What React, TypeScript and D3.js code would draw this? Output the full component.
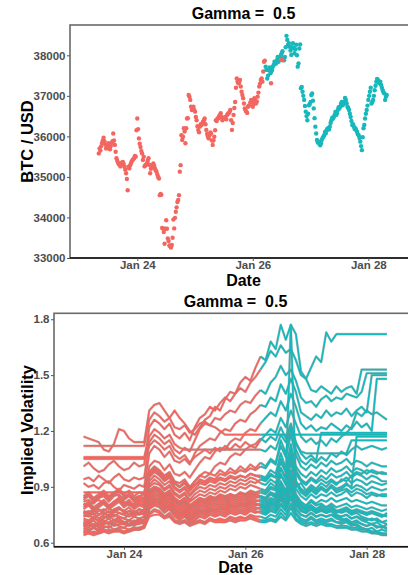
import { useRef, useEffect } from "react";
import * as d3 from "d3";

// BTC price, one reading every 40 minutes from Jan 23 08:00
const priceStart = new Date(2021, 0, 23, 8, 0);
const priceStepMin = 40;
const btcPrice = [
  35580, 35650, 35840, 35970, 35800, 35760, 35830, 35680, 35840, 36070,
  35790, 35460, 35350, 35290, 35330, 35370, 35250, 35090, 34670, 35210,
  35330, 35410, 35460, 35500, 36440, 35950, 35740, 35580, 35500, 35290,
  35330, 35460, 35090, 35250, 35330, 35210, 35130, 35000, 34550, 34560,
  33730, 33350, 33930, 33480, 33310, 33260, 33500, 33730, 34140, 34380,
  34550, 35290, 35910, 36200, 35830, 36440, 37020, 36900, 36650, 36730,
  36610, 36400, 36160, 36240, 36280, 36360, 36440, 36160, 35990, 36030,
  36070, 35790, 35990, 36400, 36440, 36500, 36570, 36400, 36440, 36480,
  36530, 36570, 36650, 36160, 36530, 36850, 37430, 37310, 37390, 37100,
  36940, 36690, 36610, 36730, 36770, 36900, 36730, 36940, 36810, 36980,
  37230, 37390, 37350, 37840, 37720, 37430, 37640, 37560, 37640, 37760,
  37800, 37880, 37840, 37960, 38050, 37920, 37960, 38480, 38260, 38210,
  38010, 38300, 38050, 38260, 37720, 38170, 37190, 37100, 36900, 36610,
  36400, 36770, 36850, 37060, 36690, 36240, 35910, 35870, 35780, 35910,
  35990, 36110, 36150, 36200, 36240, 36400, 36440, 36530, 36530, 36650,
  36690, 36810, 36770, 36850, 36900, 36730, 36650, 36480, 36280, 36240,
  36200, 36110, 36030, 35870, 35660, 36200, 36440, 36650, 36900, 37100,
  36810, 36900, 37140, 37350, 37390, 37310, 37270, 37140, 37060, 36980,
];
// readings taken 20 minutes after each of the above
const btcPriceMid = [
  35700, 35760, 35900, 35880, 35700, 35740, 35700, 35760, 35880, 35900,
  35620, 35400, 35320, 35260, 35360, 35320, 35180, 34950, 35250, 35280,
  35380, 35440, 35520, 36150, 36180, 35820, 35640, 35420, 35260, 35300,
  35400, 35300, 35200, 35280, 35280, 35160, 35060, 34960, 34580, 33740,
  33640, 33720, 33720, 33420, 33290, 33320, 33950, 33990, 34250, 34430,
  35130, 36030, 35990, 36120, 36200, 36450, 36980, 36730, 36690, 36650,
  36480, 36250, 36100, 36300, 36320, 36400, 36300, 36060, 35950, 36100,
  35900, 35900, 36150, 36380, 36450, 36520, 36480, 36420, 36470, 36420,
  36560, 36600, 36400, 36330, 36700, 37200, 37350, 37330, 37230, 37020,
  36810, 36640, 36580, 36760, 36840, 36880, 36800, 36880, 36860, 37080,
  37300, 37430, 37600, 37870, 37640, 37500, 37700, 37600, 37720, 37840,
  37800, 37960, 37900, 38000, 38100, 37880, 38200, 38380, 38300, 38120,
  38200, 38180, 38150, 38000, 37800, 38270, 37220, 37000, 36750, 36500,
  36560, 36800, 37020, 36880, 36450, 36070, 35850, 35820, 35830, 35960,
  36030, 36080, 36190, 36170, 36330, 36460, 36480, 36600, 36570, 36720,
  36740, 36850, 36790, 36950, 36820, 36700, 36560, 36380, 36300, 36180,
  36150, 36050, 35960, 35760, 35980, 36280, 36560, 36760, 37000, 37200,
  36850, 37000, 37250, 37420, 37330, 37350, 37200, 37080, 36900, 37020,
];
const colourSwitch = new Date(2021, 0, 26, 5, 20);
const lateRedTimes = [
  new Date(2021, 0, 26, 7, 35),
  new Date(2021, 0, 26, 11, 40),
  new Date(2021, 0, 26, 12, 20),
];
const lateRedPrices = [37310, 37890, 37880];

// implied volatility (in %), one reading every 2 hours from Jan 23 08:00
const ivStart = new Date(2021, 0, 23, 8, 0);
const ivStepHours = 2;
const ivSwitchIndex = 35;

const iv01 = [
  117, 116, 115, 114, 110, 109, 113, 121, 120, 116, 114, 114, 114, 131, 134, 135, 131, 127, 131, 127,
  124, 120, 118, 122, 126, 128, 133, 131, 137, 141, 140, 146, 149, 147, 154, 160, 158, 168, 164, 177,
  169, 177, 172, 152, 148, 154, 160, 157, 173, 168, 172, 172, 172, 172, 172, 172, 172, 172, 172, 172, 172,
];
const iv02 = [
  101, 103, 100, 98, 99, 102, 104, 101, 99, 100, 103, 101, 102, 122, 126, 124, 121, 124, 118, 116,
  119, 115, 122, 127, 129, 133, 131, 135, 138, 136, 140, 143, 141, 146, 149, 153, 157, 163, 160, 166,
  162, 164, 158, 150, 148, 142, 141, 144, 142, 140, 144, 141, 143, 144, 140, 153, 153, 153, 153, 153, 153,
];
const iv03 = [
  94, 95, 93, 96, 94, 92, 95, 97, 94, 93, 95, 94, 95, 114, 118, 116, 113, 115, 110, 108,
  111, 109, 115, 121, 124, 123, 127, 126, 129, 131, 130, 134, 136, 135, 139, 142, 140, 146, 149, 155,
  150, 153, 147, 138, 135, 136, 133, 137, 139, 136, 138, 137, 140, 139, 138, 141, 151, 151, 151, 151, 151,
];
const iv04 = [
  92, 90, 91, 89, 92, 93, 90, 88, 91, 90, 89, 91, 90, 108, 112, 110, 106, 109, 104, 103,
  105, 102, 108, 112, 114, 116, 115, 119, 121, 120, 124, 126, 125, 129, 131, 134, 133, 138, 136, 145,
  140, 148, 141, 130, 128, 126, 129, 127, 131, 128, 130, 129, 132, 128, 131, 133, 130, 150, 150, 150, 150,
];
const iv05 = [
  84, 86, 83, 85, 87, 84, 86, 88, 85, 86, 84, 85, 86, 101, 104, 103, 99, 102, 97, 96,
  98, 95, 99, 103, 106, 105, 109, 111, 110, 114, 116, 115, 119, 121, 120, 124, 127, 130, 128, 136,
  131, 140, 133, 124, 121, 123, 120, 122, 121, 124, 122, 120, 123, 121, 125, 122, 124, 120, 148, 148, 148,
];
const iv06 = [
  81, 80, 82, 83, 81, 79, 82, 84, 82, 80, 81, 83, 82, 96, 99, 97, 94, 96, 92, 90,
  93, 89, 93, 96, 98, 97, 101, 103, 102, 106, 108, 107, 110, 112, 111, 115, 118, 121, 119, 127,
  122, 131, 124, 117, 114, 116, 113, 115, 112, 116, 114, 117, 119, 122, 130, 128, 131, 129, 130, 128, 126,
];
const iv07 = [
  112, 112, 112, 112, 112, 112, 112, 112, 112, 112, 112, 112, 112, 126, 130, 128, 125, 127, 122, 121,
  123, 119, 121, 124, 125, 123, 122, 120, 118, 118, 118, 118, 118, 118, 118, 118, 118, 118, 118, 118,
  118, 118, 118, 118, 118, 118, 118, 118, 118, 118, 118, 118, 118, 118, 118, 118, 118, 118, 118, 118, 118,
];
const iv08 = [
  106, 106, 106, 106, 106, 106, 106, 106, 106, 106, 106, 106, 106, 117, 121, 119, 116, 118, 113, 111,
  110, 110, 110, 110, 110, 110, 110, 110, 110, 110, 110, 110, 110, 110, 110, 110, 109, 112, 110, 118,
  114, 121, 113, 109, 108, 108, 108, 108, 108, 108, 108, 108, 108, 115, 115, 115, 115, 115, 115, 115, 115,
];
const iv09 = [
  105, 105, 105, 105, 105, 105, 105, 105, 105, 105, 105, 105, 105, 112, 115, 113, 110, 112, 107, 105,
  107, 103, 106, 108, 110, 108, 111, 109, 112, 110, 113, 111, 114, 112, 113, 116, 114, 117, 115, 122,
  116, 124, 114, 108, 105, 107, 104, 119, 119, 119, 119, 119, 119, 119, 119, 119, 119, 119, 119, 119, 119,
];
const iv10 = [
  87, 87, 87, 87, 87, 87, 87, 87, 87, 87, 87, 87, 87, 98, 101, 99, 96, 98, 93, 92,
  94, 90, 93, 96, 95, 97, 96, 99, 97, 100, 98, 101, 99, 102, 100, 103, 101, 105, 103, 112,
  106, 118, 107, 101, 99, 102, 100, 103, 101, 104, 102, 103, 105, 102, 104, 103, 101, 103, 102, 101, 101,
];
const iv11 = [
  79, 81, 78, 80, 82, 79, 81, 83, 80, 82, 79, 81, 80, 91, 94, 92, 89, 91, 87, 85,
  87, 83, 86, 88, 87, 89, 88, 90, 89, 91, 90, 92, 91, 93, 92, 94, 93, 96, 95, 103,
  98, 110, 99, 94, 92, 95, 93, 96, 94, 97, 95, 96, 98, 95, 97, 96, 94, 96, 95, 93, 93,
];
const iv12 = [
  77, 76, 78, 75, 77, 79, 76, 78, 77, 75, 77, 76, 78, 88, 90, 89, 86, 88, 84, 82,
  84, 80, 82, 84, 83, 85, 84, 86, 85, 86, 85, 87, 86, 88, 87, 88, 87, 90, 89, 96,
  92, 103, 93, 88, 86, 89, 87, 90, 88, 91, 89, 90, 92, 89, 91, 90, 88, 90, 89, 88, 89,
];
const iv13 = [
  75, 74, 76, 73, 75, 77, 74, 76, 75, 74, 76, 75, 76, 86, 88, 87, 84, 86, 82, 80,
  82, 78, 80, 82, 81, 83, 82, 83, 82, 84, 83, 84, 83, 85, 84, 85, 84, 87, 86, 93,
  88, 99, 89, 85, 83, 86, 84, 86, 85, 87, 85, 86, 88, 85, 87, 86, 84, 86, 85, 86, 86,
];
const iv14 = [
  73, 72, 74, 71, 73, 75, 72, 74, 73, 72, 74, 73, 74, 84, 86, 85, 82, 84, 80, 78,
  80, 76, 78, 80, 79, 81, 80, 81, 80, 82, 81, 82, 81, 83, 82, 83, 82, 84, 83, 89,
  85, 95, 86, 82, 80, 83, 81, 83, 82, 84, 82, 83, 84, 82, 83, 82, 81, 82, 81, 80, 80,
];
const iv15 = [
  71, 70, 72, 69, 71, 73, 70, 72, 71, 70, 72, 71, 72, 82, 84, 83, 80, 82, 78, 76,
  78, 74, 76, 78, 77, 79, 78, 79, 78, 80, 79, 80, 79, 81, 80, 81, 80, 82, 81, 86,
  82, 91, 83, 79, 78, 80, 78, 80, 79, 81, 79, 80, 81, 79, 80, 79, 78, 79, 78, 77, 78,
];
const iv16 = [
  70, 69, 70, 68, 70, 71, 69, 70, 70, 69, 70, 70, 71, 80, 82, 81, 78, 80, 76, 74,
  76, 72, 74, 76, 75, 77, 76, 77, 76, 78, 77, 78, 77, 79, 78, 79, 78, 80, 79, 84,
  80, 88, 81, 77, 76, 78, 76, 78, 77, 78, 77, 77, 78, 76, 77, 76, 75, 76, 75, 74, 76,
];
const iv17 = [
  68, 67, 68, 66, 68, 69, 67, 68, 68, 67, 68, 68, 69, 78, 80, 79, 76, 78, 74, 72,
  74, 71, 72, 74, 73, 75, 74, 75, 74, 76, 75, 76, 75, 77, 76, 77, 76, 78, 77, 81,
  78, 85, 78, 75, 74, 76, 74, 75, 74, 75, 74, 74, 75, 73, 74, 73, 72, 73, 72, 71, 72,
];
const iv18 = [
  66, 65, 66, 65, 66, 67, 66, 67, 66, 66, 67, 67, 68, 76, 78, 77, 74, 76, 72, 71,
  72, 70, 71, 72, 71, 73, 72, 73, 72, 74, 73, 74, 73, 75, 74, 74, 73, 75, 74, 78,
  75, 81, 75, 72, 71, 73, 71, 72, 71, 72, 71, 71, 72, 70, 71, 70, 69, 70, 69, 68, 70,
];
const iv19 = [
  64, 65, 64, 65, 66, 65, 66, 66, 65, 66, 67, 67, 68, 74, 75, 75, 73, 74, 71, 70,
  71, 69, 70, 71, 70, 72, 71, 71, 71, 72, 71, 72, 72, 73, 72, 71, 71, 72, 71, 74,
  72, 76, 72, 70, 69, 70, 69, 70, 69, 69, 68, 68, 68, 67, 67, 66, 66, 65, 65, 64, 64,
];
const iv20 = [
  67, 66, 68, 67, 69, 68, 70, 69, 68, 70, 69, 71, 70, 79, 81, 80, 77, 79, 75, 73,
  75, 72, 73, 75, 74, 76, 75, 76, 75, 77, 76, 77, 76, 78, 77, 76, 75, 77, 76, 80,
  77, 84, 76, 73, 72, 74, 72, 73, 72, 73, 71, 70, 71, 69, 70, 68, 67, 68, 66, 67, 66,
];
const iv21 = [
  69, 70, 68, 70, 71, 70, 72, 71, 70, 72, 71, 73, 72, 83, 85, 84, 81, 83, 79, 77,
  79, 75, 77, 79, 78, 80, 79, 80, 79, 81, 80, 81, 80, 82, 81, 80, 79, 81, 80, 85,
  81, 90, 80, 77, 76, 78, 76, 77, 76, 77, 75, 74, 75, 73, 74, 72, 71, 70, 71, 69, 68,
];
const iv22 = [
  72, 71, 73, 72, 74, 73, 75, 74, 73, 75, 74, 76, 75, 87, 89, 88, 85, 87, 83, 81,
  83, 79, 81, 83, 82, 84, 83, 84, 83, 85, 84, 85, 84, 86, 85, 84, 83, 86, 84, 90,
  85, 96, 84, 80, 78, 80, 77, 78, 76, 77, 74, 73, 72, 70, 69, 68, 67, 66, 65, 65, 64,
];
const iv23 = [
  83, 85, 82, 84, 86, 83, 87, 85, 84, 86, 83, 85, 84, 96, 99, 98, 94, 97, 92, 90,
  92, 88, 91, 94, 93, 95, 94, 97, 96, 98, 97, 99, 98, 100, 99, 101, 100, 104, 102, 115,
  108, 122, 110, 104, 102, 105, 103, 106, 104, 108, 106, 109, 107, 110, 112, 110, 111, 112, 111, 110, 111,
];
const iv24 = [
  78, 80, 77, 79, 81, 78, 80, 82, 79, 81, 78, 80, 79, 90, 92, 91, 88, 90, 86, 84,
  86, 82, 84, 86, 85, 87, 86, 88, 87, 89, 88, 90, 89, 91, 90, 89, 88, 92, 90, 100,
  95, 177, 90, 92, 88, 91, 89, 92, 90, 93, 91, 94, 93, 96, 98, 97, 99, 98, 97, 98, 97,
];
const iv25 = [
  76, 75, 77, 78, 76, 74, 77, 79, 76, 77, 75, 76, 77, 87, 89, 88, 85, 87, 83, 81,
  83, 79, 81, 83, 82, 84, 83, 85, 84, 86, 85, 87, 86, 87, 86, 87, 86, 89, 88, 97,
  91, 104, 92, 87, 85, 88, 86, 89, 87, 90, 88, 89, 91, 90, 117, 117, 117, 117, 117, 117, 117,
];
const iv26 = [
  65, 66, 65, 66, 67, 66, 67, 67, 66, 67, 68, 68, 69, 75, 77, 76, 74, 75, 72, 71,
  72, 70, 71, 72, 71, 73, 72, 72, 72, 73, 72, 73, 73, 74, 73, 72, 72, 73, 72, 76,
  73, 79, 73, 71, 70, 71, 70, 71, 70, 70, 69, 69, 69, 68, 68, 67, 67, 66, 66, 65, 65,
];
const iv27 = [
  69, 68, 70, 69, 70, 71, 70, 72, 71, 70, 71, 72, 71, 80, 83, 82, 79, 80, 77, 75,
  77, 73, 75, 77, 76, 78, 77, 78, 77, 79, 78, 79, 78, 80, 79, 78, 77, 79, 78, 83,
  79, 88, 78, 75, 74, 76, 74, 75, 74, 75, 73, 72, 73, 71, 72, 70, 69, 70, 68, 69, 67,
];
const iv28 = [
  74, 75, 73, 75, 76, 74, 77, 76, 75, 77, 76, 78, 77, 88, 90, 89, 86, 88, 84, 82,
  84, 80, 82, 84, 83, 85, 84, 85, 84, 86, 85, 86, 85, 87, 86, 85, 84, 87, 85, 92,
  86, 98, 85, 81, 79, 82, 80, 81, 79, 80, 77, 76, 77, 75, 76, 74, 73, 72, 73, 71, 70,
];
const iv29 = [
  80, 82, 79, 81, 83, 80, 82, 84, 81, 83, 80, 82, 81, 93, 96, 94, 91, 93, 89, 87,
  89, 85, 88, 90, 89, 91, 90, 92, 91, 93, 92, 94, 93, 95, 94, 92, 91, 94, 92, 100,
  94, 107, 93, 89, 87, 90, 88, 90, 88, 90, 87, 88, 89, 87, 89, 88, 86, 87, 86, 85, 85,
];
const iv30 = [
  82, 83, 81, 84, 85, 82, 85, 86, 83, 85, 82, 84, 83, 95, 98, 96, 93, 95, 90, 88,
  90, 86, 89, 92, 91, 93, 92, 94, 93, 95, 94, 96, 95, 97, 96, 96, 95, 99, 97, 108,
  100, 113, 101, 97, 95, 98, 96, 99, 97, 100, 98, 99, 101, 98, 100, 99, 97, 99, 98, 97, 97,
];
const iv31 = [
  70, 71, 69, 71, 72, 70, 72, 73, 71, 72, 70, 72, 71, 81, 83, 82, 79, 81, 77, 75,
  77, 73, 75, 77, 76, 78, 77, 79, 78, 80, 79, 81, 80, 82, 81, 80, 79, 82, 80, 88,
  82, 93, 81, 78, 77, 79, 77, 78, 77, 78, 76, 77, 78, 76, 77, 76, 75, 76, 75, 74, 75,
];
const iv32 = [
  76, 77, 75, 77, 78, 76, 78, 79, 77, 79, 76, 78, 77, 85, 87, 86, 83, 85, 81, 79,
  81, 77, 79, 81, 80, 82, 81, 82, 81, 83, 82, 83, 82, 84, 83, 82, 81, 83, 82, 87,
  83, 92, 82, 79, 78, 80, 78, 79, 78, 79, 77, 78, 79, 77, 78, 77, 76, 77, 76, 75, 74,
];
const iv33 = [
  85, 87, 84, 86, 88, 85, 87, 89, 86, 88, 85, 87, 86, 97, 100, 98, 95, 97, 92, 90,
  92, 88, 91, 93, 92, 94, 93, 95, 94, 96, 95, 96, 95, 97, 96, 95, 94, 97, 95, 105,
  98, 110, 97, 93, 91, 94, 92, 94, 92, 94, 92, 93, 95, 92, 94, 93, 91, 93, 92, 91, 92,
];
const ivSeries = [
  iv01, iv02, iv03, iv04, iv05, iv06, iv07, iv08, iv09, iv10, iv11,
  iv12, iv13, iv14, iv15, iv16, iv17, iv18, iv19, iv20, iv21, iv22,
  iv23, iv24, iv25, iv26, iv27, iv28, iv29, iv30, iv31, iv32, iv33,
];

const xTickDates = [new Date(2021, 0, 24), new Date(2021, 0, 26), new Date(2021, 0, 28)];
const priceTicks = [33000, 34000, 35000, 36000, 37000, 38000];
const ivTicks = [0.6, 0.9, 1.2, 1.5, 1.8];

const RED = "#F3665F";
const TEAL = "#16B8BB";
const FONT = "'Liberation Sans', Arial, sans-serif";

const App = () => {
  const ref = useRef<HTMLDivElement | null>(null);
  const w = 408;
  const h = 575;

  useEffect(() => {
    const svg = d3
      .select(ref.current)
      .append("svg")
      .attr("width", w)
      .attr("height", h)
      .style("font-family", FONT)
      .style("display", "block");

    type Box = { left: number; right: number; top: number; bottom: number };

    // frame, ticks and labels shared by both panels
    const drawFrame = (
      box: Box,
      x: d3.ScaleTime<number, number>,
      y: d3.ScaleLinear<number, number>,
      yTicks: number[],
      yFmt: (v: number) => string,
      yTitle: string,
      titleY: number,
      dateY: number
    ) => {
      const mid = (box.left + box.right) / 2;
      svg
        .append("rect")
        .attr("x", box.left)
        .attr("y", box.top)
        .attr("width", box.right - box.left)
        .attr("height", box.bottom - box.top)
        .attr("fill", "none")
        .attr("stroke", "#6a6a6a")
        .attr("stroke-width", 1.6);
      svg
        .append("line")
        .attr("x1", box.left)
        .attr("x2", box.right)
        .attr("y1", box.bottom)
        .attr("y2", box.bottom)
        .attr("stroke", "#111")
        .attr("stroke-width", 1.6);

      const xAxis = svg
        .append("g")
        .attr("transform", `translate(0,${box.bottom})`)
        .call(
          d3
            .axisBottom(x)
            .tickValues(xTickDates)
            .tickSize(3)
            .tickPadding(0)
            .tickFormat((d) => d3.timeFormat("%b %d")(d as Date))
        );
      const yAxis = svg
        .append("g")
        .attr("transform", `translate(${box.left},0)`)
        .call(
          d3
            .axisLeft(y)
            .tickValues(yTicks)
            .tickSize(3)
            .tickPadding(1.5)
            .tickFormat((d) => yFmt(d as number))
        );
      [xAxis, yAxis].forEach((a) => {
        a.select(".domain").remove();
        a.selectAll("line").attr("stroke", "#555").attr("stroke-width", 1);
        a.selectAll("text")
          .attr("fill", "#4d4d4d")
          .style("font-size", "11.5px")
          .style("font-weight", "bold")
          .style("font-family", FONT);
      });

      svg
        .append("text")
        .attr("x", mid)
        .attr("y", titleY)
        .attr("text-anchor", "middle")
        .style("font-size", "16px")
        .style("font-weight", "bold")
        .style("white-space", "pre")
        .text("Gamma =  0.5");
      svg
        .append("text")
        .attr("x", mid)
        .attr("y", dateY)
        .attr("text-anchor", "middle")
        .style("font-size", "16px")
        .style("font-weight", "bold")
        .text("Date");
      svg
        .append("text")
        .attr("transform", `translate(33,${(box.top + box.bottom) / 2}) rotate(-90)`)
        .attr("text-anchor", "middle")
        .style("font-size", "16.5px")
        .style("font-weight", "bold")
        .text(yTitle);
    };

    // ---------- top panel: BTC price points ----------
    const top: Box = { left: 70, right: 417, top: 25, bottom: 258 };
    const x1 = d3
      .scaleTime()
      .domain([new Date(2021, 0, 23), new Date(2021, 0, 29)])
      .range([79.55, 426.05]);
    const y1 = d3.scaleLinear().domain([33000, 38748]).range([top.bottom, top.top]);

    const step = priceStepMin * 60000;
    const pricePts = btcPrice
      .map((p, i) => ({ t: new Date(priceStart.getTime() + i * step), p }))
      .concat(
        btcPriceMid.map((p, i) => ({ t: new Date(priceStart.getTime() + i * step + step / 2), p }))
      );
    const latePts = lateRedTimes.map((t, i) => ({ t, p: lateRedPrices[i] }));

    drawFrame(top, x1, y1, priceTicks, (v) => String(v), "BTC / USD", 19, 286);

    svg
      .append("g")
      .selectAll("circle")
      .data(pricePts.concat([]))
      .enter()
      .append("circle")
      .attr("cx", (d) => x1(d.t))
      .attr("cy", (d) => y1(d.p))
      .attr("r", 2.2)
      .attr("fill", (d) => (d.t < colourSwitch ? RED : TEAL));
    svg
      .append("g")
      .selectAll("circle")
      .data(latePts)
      .enter()
      .append("circle")
      .attr("cx", (d) => x1(d.t))
      .attr("cy", (d) => y1(d.p))
      .attr("r", 2.2)
      .attr("fill", RED);

    // ---------- bottom panel: implied volatility lines ----------
    const bot: Box = { left: 54, right: 417, top: 313.3, bottom: 546.7 };
    const x2 = d3
      .scaleTime()
      .domain([new Date(2021, 0, 23), new Date(2021, 0, 29)])
      .range([63.33, 427.37]);
    const y2 = d3.scaleLinear().domain([0.5785, 1.832]).range([bot.bottom, bot.top]);

    const ivTime = (i: number) => new Date(ivStart.getTime() + i * ivStepHours * 3600000);
    const seg = (vals: number[], from: number, to: number) =>
      vals
        .slice(from, to + 1)
        .map((v, j) => [x2(ivTime(from + j)), y2(v / 100)] as [number, number]);
    const path = d3.line<[number, number]>();

    svg
      .append("defs")
      .append("clipPath")
      .attr("id", "ivclip")
      .append("rect")
      .attr("x", bot.left)
      .attr("y", bot.top)
      .attr("width", bot.right - bot.left)
      .attr("height", bot.bottom - bot.top);
    const lg = svg.append("g").attr("clip-path", "url(#ivclip)");

    const last = iv01.length - 1;
    [
      { from: 0, to: ivSwitchIndex, colour: RED },
      { from: ivSwitchIndex, to: last, colour: TEAL },
    ].forEach(({ from, to, colour }) => {
      ivSeries.forEach((vals) => {
        const d = path(seg(vals, from, to));
        // soft grey edge, as in the original rendering
        lg.append("path")
          .attr("d", d)
          .attr("fill", "none")
          .attr("stroke", "#8a8a8a")
          .attr("stroke-opacity", 0.45)
          .attr("stroke-width", 2.6)
          .attr("stroke-linejoin", "round");
        lg.append("path")
          .attr("d", d)
          .attr("fill", "none")
          .attr("stroke", colour)
          .attr("stroke-width", 1.7)
          .attr("stroke-linejoin", "round");
      });
    });

    drawFrame(bot, x2, y2, ivTicks, d3.format(".1f"), "Implied Volatility", 306.7, 573);

    return () => {
      d3.select(ref.current).selectAll("*").remove();
    };
  }, []);

  return (
    <div
      ref={ref}
      style={{ position: "absolute", left: 0, top: 0, width: w, height: h, background: "#fff" }}
    />
  );
};

export default App;
